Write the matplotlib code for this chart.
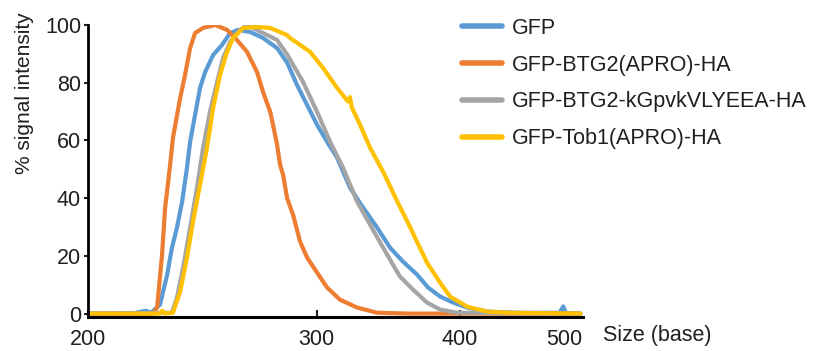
import numpy as np
import matplotlib
matplotlib.use("Agg")
import matplotlib.pyplot as plt
from matplotlib.ticker import FixedLocator, NullLocator, FixedFormatter

plt.rcParams['font.family'] = ['Liberation Sans', 'DejaVu Sans']

labels = ["GFP", "GFP-BTG2(APRO)-HA", "GFP-BTG2-kGpvkVLYEEA-HA", "GFP-Tob1(APRO)-HA"]
colors = ["#5B9BD5", "#ED7D31", "#A5A5A5", "#FFC000"]

gfp_x = [200, 215, 220, 222, 225.4, 228.2, 230.1, 232.1, 234.2, 236.2, 237.5, 239.6, 241.7, 243.9,
         247.4, 251.4, 255.1, 258.8, 264.6, 271.0, 278.2, 283.5, 288.9, 294.5, 300.2, 306.1, 312.1,
         320.1, 328.5, 337.8, 346.7, 355.9, 366.2, 374.6, 384.0, 394.5, 406.2, 423.6, 451.6, 495.0,
         498.9, 502.0, 518.0]
gfp_y = [0, 0, 1.0, 0.3, 3.1, 13.5, 22.8, 29.8, 38.8, 50.5, 59.5, 68.9, 78.2, 83.7,
         89.6, 93.1, 97.2, 98.3, 97.6, 95.5, 92.0, 87.0, 79.2, 72.3, 65.4, 59.5, 54.0,
         43.6, 36.7, 29.8, 22.8, 18.0, 13.5, 9.0, 5.9, 3.8, 2.1, 0.7, 0.3, 0.3,
         2.5, 0.2, 0]

btg2_x = [200, 222.7, 224.3, 226.2, 227.4, 229.3, 230.5, 233.4, 235.4, 237.5, 239.6, 243.0, 248.3,
          253.7, 258.3, 263.1, 268.0, 271.0, 274.6, 276.1, 278.2, 279.8, 281.4, 283.5, 286.7, 290.6,
          294.5, 300.2, 306.1, 313.9, 324.6, 337.8, 360.0, 518.0]
btg2_y = [0, 0, 2.1, 20.4, 36.7, 51.0, 60.9, 74.7, 82.7, 92.0, 97.2, 99.0, 100,
          98.3, 94.8, 90.7, 83.7, 76.8, 70.0, 65.4, 58.5, 51.5, 48.0, 40.0, 34.3, 24.9,
          19.4, 14.2, 9.0, 4.8, 2.1, 0.3, 0, 0]

mut_x = [200, 230.1, 232.1, 234.6, 237.5, 240.4, 243.0, 246.0, 249.2, 251.9, 255.1, 259.8, 263.1,
         271.0, 278.2, 283.8, 292.2, 300.2, 307.9, 315.8, 324.6, 333.1, 341.9, 351.6, 353.8, 363.2,
         373.8, 384.0, 397.8, 518.0]
mut_y = [0, 0.3, 5.5, 15.9, 29.8, 43.6, 57.4, 69.9, 80.3, 88.6, 94.1, 98.3, 100,
         97.2, 94.8, 89.5, 80.3, 69.9, 59.5, 50.5, 38.8, 30.8, 22.8, 14.5, 12.8, 8.3,
         3.8, 1.4, 0.3, 0]

tob1_x = [200, 225.4, 226.2, 227.4, 230.5, 233.4, 236.2, 238.7, 241.7, 244.7, 247.4, 250.5, 253.7,
          256.5, 261.2, 268.0, 274.6, 283.5, 285.1, 296.2, 303.7, 312.1, 318.8, 320.1, 321.2, 326.5,
          333.1, 341.9, 351.6, 361.0, 366.0, 373.8, 384.0, 392.0, 406.2, 423.6, 444.9, 518.0]
tob1_y = [0, 0, 1.0, 0, 0.3, 7.6, 19.4, 31.8, 44.6, 57.4, 71.3, 82.7, 90.7,
          95.5, 99.0, 99.3, 99.0, 96.5, 95.5, 90.7, 85.1, 78.2, 73.5, 75.0, 71.5, 65.4,
          57.4, 49.1, 39.0, 30.0, 25.0, 17.6, 10.7, 5.9, 2.4, 0.7, 0.3, 0]

xticks = [200, 300, 400, 500]
yticks = [0, 20, 40, 60, 80, 100]

series = [(gfp_x, gfp_y), (btg2_x, btg2_y), (mut_x, mut_y), (tob1_x, tob1_y)]

fig = plt.figure(figsize=(8.13, 3.51), dpi=100)
ax = fig.add_axes([88/813, (351-316.5)/351, (583-88)/813, (316.5-25)/351])

fwd = lambda x: np.log(np.clip(np.asarray(x, dtype=float) - 75, 1e-6, None))
inv = lambda y: np.exp(y) + 75
ax.set_xscale('function', functions=(fwd, inv))

for (xs, ys), c, lab in zip(series, colors, labels):
    ax.plot(xs, ys, color=c, lw=3, label=lab, solid_capstyle='round')

ax.set_xlim(200, 521)
ax.set_ylim(-1, 100)

ax.xaxis.set_major_locator(FixedLocator(xticks))
ax.xaxis.set_major_formatter(FixedFormatter([str(t) for t in xticks]))
ax.xaxis.set_minor_locator(NullLocator())
ax.set_yticks(yticks)

txtc = "#1f1f1f"
for s in ['top', 'right']:
    ax.spines[s].set_visible(False)
ax.spines['left'].set_linewidth(2)
ax.spines['bottom'].set_linewidth(2.2)
ax.tick_params(axis='x', direction='in', length=5, width=1.5, labelsize=15.5, pad=9, colors=txtc)
ax.tick_params(axis='y', direction='out', length=3, width=1.5, labelsize=15.5, pad=2, colors=txtc)

fig.text(25/813, 1-93/351, "% signal intensity", rotation=90, ha='center', va='center',
         fontsize=15, color=txtc)
fig.text(603/813, 1-336/351, "Size (base)", ha='left', va='center', fontsize=15.5, color=txtc)

leg = ax.legend(loc='upper left', bbox_to_anchor=(462/813, 1-18/351), bbox_transform=fig.transFigure,
                frameon=False, fontsize=15.5, handlelength=1.86, handletextpad=0.45,
                labelspacing=0.73, borderpad=0, borderaxespad=0)
for l in leg.get_lines():
    l.set_linewidth(4)
for t in leg.get_texts():
    t.set_color(txtc)

fig.savefig("out.png", dpi=100)
